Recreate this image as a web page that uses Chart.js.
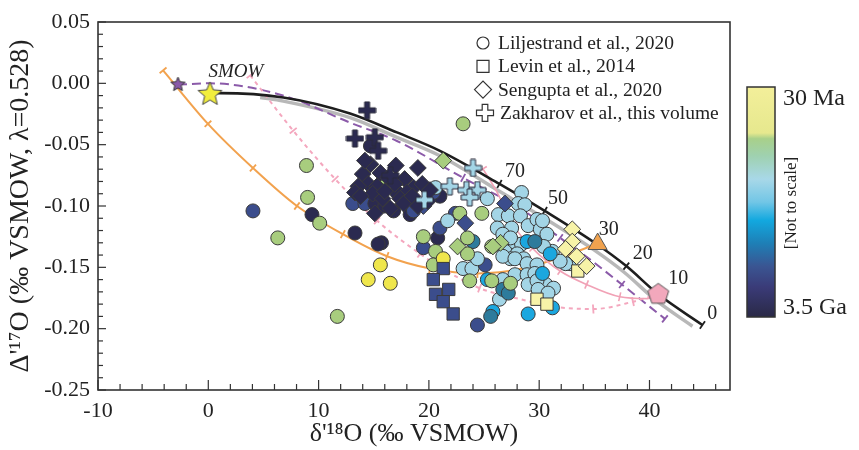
<!DOCTYPE html>
<html>
<head>
<meta charset="utf-8">
<script src="https://cdn.jsdelivr.net/npm/chart.js@4/dist/chart.umd.min.js"></script>
<style>
  html, body { margin: 0; padding: 0; background: #fff; }
</style>
</head>
<body>
<canvas id="chart" width="859" height="450"></canvas>
<script>
const serif = "'Liberation Serif', 'Times New Roman', serif";

// age classes, young (0) to old (7)
const ageColors = ["#f7f3a8", "#efe64c", "#a8cd7e", "#a3d5e6", "#1ba7df", "#2e7b9c", "#3b4d8c", "#2b2a50"];

const xTickLabels = [-10, 0, 10, 20, 30, 40];
const yTickLabels = [0.05, 0, -0.05, -0.10, -0.15, -0.20, -0.25];

// Liljestrand et al., 2020 (circles)
const liljX = [4.05, 8.9, 9.0, 9.4, 10.1, 6.3, 13.3, 15.7, 15.4, 15.6, 14.5, 16.5, 11.7, 23.1, 14.7,
  13.1, 14.2, 15.1, 16.0, 16.8, 17.1, 18.3, 18.6, 21.0, 20.4, 22.4, 20.8, 19.5, 25.1, 24.4, 21.0, 15.8,
  20.6, 21.7, 28.4, 28.1, 28.7, 26.3, 27.2, 28.3, 26.2, 27.5, 29.0, 29.8, 30.1, 26.9, 27.6, 28.4, 26.9, 28.0,
  27.4, 28.6, 31.2, 30.3, 30.7, 30.4, 32.8, 32.4, 31.9, 30.6, 31.3, 26.7, 27.4, 26.7, 27.8, 28.9, 29.8,
  23.1, 23.9, 24.4, 27.8, 28.9, 29.6, 29.0, 29.8, 29.9, 30.8, 26.4, 26.7, 25.3,
  28.9, 31.0, 30.3, 25.3, 29.0, 31.2, 25.8,
  24.0, 29.6, 26.7, 27.2, 25.6,
  22.8, 24.8, 19.5, 20.6, 23.5, 23.5, 20.4, 25.7, 23.7, 25.7, 27.4,
  21.3];
const liljY = [-0.104, -0.067, -0.093, -0.107, -0.114, -0.126, -0.122, -0.130, -0.131, -0.148, -0.160, -0.163, -0.190, -0.033, -0.051,
  -0.098, -0.098, -0.098, -0.100, -0.104, -0.089, -0.107, -0.104, -0.092, -0.089, -0.106, -0.126, -0.134, -0.148, -0.197, -0.118, -0.082,
  -0.085, -0.112, -0.089, -0.098, -0.099, -0.107, -0.108, -0.108, -0.118, -0.118, -0.116, -0.111, -0.119, -0.127, -0.129, -0.131, -0.137, -0.139,
  -0.143, -0.143, -0.137, -0.112, -0.123, -0.133, -0.147, -0.147, -0.145, -0.164, -0.167, -0.123, -0.126, -0.141, -0.143, -0.147, -0.148,
  -0.151, -0.151, -0.143, -0.156, -0.156, -0.155, -0.164, -0.161, -0.168, -0.171, -0.176, -0.160, -0.094,
  -0.129, -0.139, -0.155, -0.160, -0.188, -0.183, -0.186,
  -0.129, -0.129, -0.168, -0.171, -0.190,
  -0.106, -0.106, -0.125, -0.137, -0.126, -0.139, -0.148, -0.133, -0.161, -0.161, -0.163,
  -0.143];
const liljAge = [6, 2, 2, 7, 2, 2, 7, 7, 7, 1, 1, 1, 2, 2, 7,
  6, 6, 7, 7, 7, 7, 7, 6, 7, 6, 6, 7, 6, 6, 6, 6, 2,
  3, 3, 3, 3, 3, 3, 3, 3, 3, 3, 3, 3, 3, 3, 3, 3, 3, 3,
  3, 3, 3, 3, 3, 3, 3, 3, 3, 3, 3, 3, 3, 3, 3, 3, 3,
  3, 3, 3, 3, 3, 3, 3, 3, 3, 3, 3, 3, 3,
  4, 4, 4, 4, 4, 4, 4,
  5, 5, 5, 5, 5,
  2, 2, 2, 2, 2, 2, 2, 2, 2, 2, 2,
  1];

// Levin et al., 2014 (squares)
const levinX = [21.3, 20.4, 21.8, 20.6, 21.3, 22.2, 29.8, 30.7, 33.5];
const levinY = [-0.151, -0.160, -0.168, -0.172, -0.178, -0.188, -0.176, -0.180, -0.153];
const levinAge = [6, 6, 6, 6, 6, 6, 0, 0, 0];

// Sengupta et al., 2020 (diamonds)
const sengX = [33.0, 33.0, 32.4, 33.4, 34.3, 21.3, 22.6, 26.5, 25.8, 26.9, 23.3, 19.5,
  19.0, 14.7, 15.6, 14.0, 16.3, 14.5, 17.8, 13.6, 15.3, 16.9, 18.6, 19.4, 13.3, 14.9,
  18.0, 17.4, 15.8, 17.7, 16.5, 18.5, 19.9, 19.0, 17.0, 16.0, 14.2, 20.1, 15.1, 13.8];
const sengY = [-0.119, -0.129, -0.135, -0.141, -0.149, -0.063, -0.133, -0.130, -0.133, -0.098, -0.114, -0.100,
  -0.069, -0.066, -0.073, -0.074, -0.077, -0.082, -0.078, -0.084, -0.084, -0.082, -0.085, -0.082, -0.089, -0.090,
  -0.089, -0.094, -0.094, -0.098, -0.102, -0.092, -0.096, -0.100, -0.067, -0.088, -0.063, -0.087, -0.106, -0.092];
const sengAge = [0, 0, 0, 0, 0, 2, 2, 2, 2, 6, 6, 6,
  7, 7, 7, 7, 7, 7, 7, 7, 7, 7, 7, 7, 7, 7,
  7, 7, 7, 7, 7, 7, 7, 7, 7, 7, 7, 7, 7, 7];

// Zakharov et al., this volume (crosses)
const zakhX = [14.4, 13.3, 15.1, 15.4, 16.5, 24.0, 21.9, 23.4, 24.4, 23.7, 19.6];
const zakhY = [-0.022, -0.045, -0.044, -0.055, -0.075, -0.069, -0.084, -0.087, -0.087, -0.093, -0.095];
const zakhAge = [7, 7, 7, 7, 7, 3, 3, 3, 3, 3, 3];

// reference compositions
const smowPt = { x: 0.15, y: -0.009 };
const seawaterPt = { x: -2.75, y: -0.001 };
const trianglePt = { x: 35.3, y: -0.131 };
const pentagonPt = { x: 40.8, y: -0.172 };

// model curves
const blackX = [0.15, 1.06, 6.8, 12.85, 17.1, 21.0, 26.4, 30.5, 35.2, 37.9, 40.8, 44.8];
const blackY = [-0.008, -0.008, -0.0115, -0.0246, -0.040, -0.055, -0.082, -0.104, -0.131, -0.149, -0.172, -0.197];
const grayX = [4.7, 6.8, 12.85, 17.1, 21.0, 26.2, 30.3, 35.0, 37.7, 40.6, 43.9];
const grayY = [-0.0115, -0.0145, -0.028, -0.044, -0.059, -0.087, -0.109, -0.136, -0.154, -0.177, -0.198];
const purpleX = [-2.75, 0.15, 6.77, 12.85, 17.1, 23.1, 28.3, 31.9, 34.6, 37.5, 41.4];
const purpleY = [-0.001, 0.0, -0.0099, -0.032, -0.047, -0.077, -0.102, -0.126, -0.1435, -0.164, -0.192];
const orangeX = [-4.1, -0.03, 4.05, 8.04, 12.2, 16.2, 20.1, 24.4, 28.5, 32.2, 35.2];
const orangeY = [0.0106, -0.033, -0.069, -0.100, -0.123, -0.141, -0.151, -0.155, -0.151, -0.141, -0.131];
const pinkDashX = [3.8, 7.7, 11.5, 15.3, 19.2, 21.6, 24.6, 28.3, 31.25, 34.9, 38.5, 40.7];
const pinkDashY = [0.0065, -0.0386, -0.078, -0.112, -0.139, -0.153, -0.167, -0.176, -0.182, -0.184, -0.178, -0.172];
const pinkX = [24.9, 26.2, 27.6, 29.4, 31.9, 34.3, 37.3, 39.8, 40.8];
const pinkY = [-0.0697, -0.089, -0.115, -0.1345, -0.153, -0.164, -0.174, -0.1755, -0.172];

// labels along the black curve
const curveLabels = ["70", "50", "30", "20", "10", "0"];
const curveLabelX = [27.8, 31.7, 36.3, 39.4, 42.6, 45.7];
const curveLabelY = [-0.072, -0.094, -0.119, -0.139, -0.159, -0.188];

const sources = ["Liljestrand et al., 2020", "Levin et al., 2014", "Sengupta et al., 2020", "Zakharov et al., this volume"];

const pts = (xs, ys) => xs.map((v, i) => ({ x: v, y: ys[i] }));
const colorsFor = ages => ages.map(a => ageColors[a]);

function plusIcon(fill, stroke, size, arm) {
  const c = document.createElement("canvas");
  c.width = size + 2; c.height = size + 2;
  const g = c.getContext("2d");
  const m = c.width / 2, h = arm / 2, e = size / 2;
  g.beginPath();
  g.moveTo(m - h, m - e); g.lineTo(m + h, m - e); g.lineTo(m + h, m - h); g.lineTo(m + e, m - h);
  g.lineTo(m + e, m + h); g.lineTo(m + h, m + h); g.lineTo(m + h, m + e); g.lineTo(m - h, m + e);
  g.lineTo(m - h, m + h); g.lineTo(m - e, m + h); g.lineTo(m - e, m - h); g.lineTo(m - h, m - h);
  g.closePath();
  g.fillStyle = fill; g.fill();
  g.strokeStyle = stroke; g.lineWidth = 1; g.stroke();
  return c;
}

function polyIcon(fill, stroke, r, n, inner) {
  const s = Math.ceil(r * 2 + 4);
  const c = document.createElement("canvas");
  c.width = s; c.height = s;
  const g = c.getContext("2d");
  const k = inner ? n * 2 : n;
  g.beginPath();
  for (let i = 0; i < k; i++) {
    const rr = inner && i % 2 ? r * inner : r;
    const a = -Math.PI / 2 + i * 2 * Math.PI / k;
    g.lineTo(s / 2 + rr * Math.cos(a), s / 2 + rr * Math.sin(a));
  }
  g.closePath();
  g.fillStyle = fill; g.fill();
  g.strokeStyle = stroke; g.lineWidth = 1; g.stroke();
  return c;
}

const plusIcons = {};
[3, 7].forEach(a => { plusIcons[a] = plusIcon(ageColors[a], "#2a2a3a", 17, 5); });

function curve(label, xs, ys, color, width, dash, ticks, order) {
  return {
    type: "line", label: label, data: pts(xs, ys), showLine: true,
    borderColor: color, borderWidth: width, borderDash: dash, pointRadius: 0,
    cubicInterpolationMode: "monotone", fill: false, order: order,
    tickAt: ticks
  };
}

// short perpendicular marks along the model curves
const curveTicks = {
  id: "curveTicks",
  afterDatasetDraw(chart, args) {
    const ds = chart.data.datasets[args.index];
    if (!ds.tickAt) return;
    const { ctx, scales: { x, y } } = chart;
    const p = ds.data.map(d => [x.getPixelForValue(d.x), y.getPixelForValue(d.y)]);
    ctx.save();
    ctx.strokeStyle = ds.borderColor;
    ctx.lineWidth = Math.min(ds.borderWidth, 1.8);
    ctx.setLineDash([]);
    ds.tickAt.forEach(i => {
      const a = p[Math.max(i - 1, 0)], b = p[Math.min(i + 1, p.length - 1)];
      const ang = Math.atan2(b[1] - a[1], b[0] - a[0]) + Math.PI / 2;
      const dx = Math.cos(ang) * 4.5, dy = Math.sin(ang) * 4.5;
      ctx.beginPath();
      ctx.moveTo(p[i][0] - dx, p[i][1] - dy);
      ctx.lineTo(p[i][0] + dx, p[i][1] + dy);
      ctx.stroke();
    });
    ctx.restore();
  }
};

// frame, inward axis ticks, curve labels, legend and age colour bar
const decorations = {
  id: "decorations",
  beforeDraw(chart) {
    const ctx = chart.ctx;
    ctx.save();
    ctx.fillStyle = "#fff";
    ctx.fillRect(0, 0, chart.width, chart.height);
    ctx.restore();
  },
  afterDraw(chart) {
    const { ctx, chartArea: ca, scales: { x, y } } = chart;
    ctx.save();
    ctx.strokeStyle = "#333";
    ctx.lineWidth = 1.6;
    ctx.strokeRect(ca.left, ca.top, ca.right - ca.left, ca.bottom - ca.top);

    ctx.lineWidth = 1.2;
    for (let v = -10; v <= 46; v += 2) {
      const px = x.getPixelForValue(v);
      const len = v % 10 === 0 ? 10 : 6;
      ctx.beginPath(); ctx.moveTo(px, ca.bottom); ctx.lineTo(px, ca.bottom - len); ctx.stroke();
    }
    for (let k = -25; k <= 5; k++) {
      const py = y.getPixelForValue(k / 100);
      const len = k % 5 === 0 ? 8 : 5;
      ctx.beginPath(); ctx.moveTo(ca.left, py); ctx.lineTo(ca.left + len, py); ctx.stroke();
    }

    ctx.fillStyle = "#222";
    ctx.textAlign = "center";
    ctx.textBaseline = "middle";
    ctx.font = `20px ${serif}`;
    curveLabels.forEach((t, i) => {
      ctx.fillText(t, x.getPixelForValue(curveLabelX[i]), y.getPixelForValue(curveLabelY[i]));
    });
    ctx.font = `italic 19px ${serif}`;
    ctx.fillText("SMOW", x.getPixelForValue(2.5), y.getPixelForValue(0.009));

    // legend
    ctx.font = `19.5px ${serif}`;
    ctx.textAlign = "left";
    ctx.strokeStyle = "#333";
    ctx.lineWidth = 1.2;
    const lx = 483;
    sources.forEach((name, i) => {
      const cy = 43 + i * 23.3;
      ctx.beginPath();
      if (i === 0) ctx.arc(lx, cy, 6, 0, Math.PI * 2);
      if (i === 1) ctx.rect(lx - 6, cy - 6, 12, 12);
      if (i === 2) { ctx.moveTo(lx - 8.5, cy); ctx.lineTo(lx, cy - 8.5); ctx.lineTo(lx + 8.5, cy); ctx.lineTo(lx, cy + 8.5); ctx.closePath(); }
      if (i === 3) {
        const h = 2.8, e = 8.5, m = lx + 2;
        ctx.moveTo(m - h, cy - e); ctx.lineTo(m + h, cy - e); ctx.lineTo(m + h, cy - h); ctx.lineTo(m + e, cy - h);
        ctx.lineTo(m + e, cy + h); ctx.lineTo(m + h, cy + h); ctx.lineTo(m + h, cy + e); ctx.lineTo(m - h, cy + e);
        ctx.lineTo(m - h, cy + h); ctx.lineTo(m - e, cy + h); ctx.lineTo(m - e, cy - h); ctx.lineTo(m - h, cy - h);
        ctx.closePath();
      }
      ctx.stroke();
      ctx.fillText(name, i === 3 ? 500 : 498, cy + 1);
    });

    // age colour bar
    const bx = 747, by = 87, bw = 28, bh = 230;
    const grad = ctx.createLinearGradient(0, by, 0, by + bh);
    grad.addColorStop(0, "#f3ef9a");
    grad.addColorStop(0.2, "#e6e88e");
    grad.addColorStop(0.225, "#a8d08a");
    grad.addColorStop(0.3, "#9fd1b0");
    grad.addColorStop(0.4, "#a8d8e8");
    grad.addColorStop(0.5, "#72c6e6");
    grad.addColorStop(0.58, "#12a8df");
    grad.addColorStop(0.68, "#1e7fb6");
    grad.addColorStop(0.78, "#3a5592");
    grad.addColorStop(0.87, "#3a3b78");
    grad.addColorStop(1, "#2a2946");
    ctx.fillStyle = grad;
    ctx.fillRect(bx, by, bw, bh);
    ctx.strokeStyle = "#333";
    ctx.lineWidth = 1.5;
    ctx.strokeRect(bx, by, bw, bh);

    ctx.fillStyle = "#222";
    ctx.textAlign = "left";
    ctx.font = `24px ${serif}`;
    ctx.fillText("30 Ma", 783, 99);
    ctx.fillText("3.5 Ga", 783, 308);
    ctx.save();
    ctx.translate(792, 203);
    ctx.rotate(-Math.PI / 2);
    ctx.textAlign = "center";
    ctx.font = `17px ${serif}`;
    ctx.fillText("[Not to scale]", 0, 0);
    ctx.restore();
    ctx.restore();
  }
};

const datasets = [
  { label: "SMOW", data: [smowPt], pointStyle: polyIcon("#f2ee3c", "#444", 12.5, 5, 0.45), order: 0 },
  { label: "seawater", data: [seawaterPt], pointStyle: polyIcon("#8a5aa8", "#333", 7.5, 5, 0.45), order: 0 },
  { label: "triangle", data: [trianglePt], pointStyle: "triangle", pointRadius: 11, backgroundColor: "#f0a24e", borderColor: "#555", borderWidth: 1, order: 0 },
  { label: "pentagon", data: [pentagonPt], pointStyle: polyIcon("#f2a8bc", "#555", 11, 5, 0), order: 0 },
  { label: sources[3], data: pts(zakhX, zakhY), pointStyle: ctx => plusIcons[zakhAge[ctx.dataIndex]], order: 1 },
  { label: sources[2], data: pts(sengX, sengY), pointStyle: "rectRot", pointRadius: 8.4,
    backgroundColor: colorsFor(sengAge), borderColor: "#3a3a3a", borderWidth: 1, order: 2 },
  { label: sources[1], data: pts(levinX, levinY), pointStyle: "rect", pointRadius: 8.7,
    backgroundColor: colorsFor(levinAge), borderColor: "#3a3a3a", borderWidth: 1, order: 3 },
  { label: sources[0], data: pts(liljX, liljY), pointStyle: "circle", pointRadius: 7,
    backgroundColor: colorsFor(liljAge), borderColor: "#3a3a3a", borderWidth: 1, order: 4 },
  curve("black", blackX, blackY, "#1e1e1e", 2.6, [], [6, 7, 9, 11], 5),
  curve("pink", pinkX, pinkY, "#f1a2b6", 1.6, [], [0, 2, 3, 4, 5, 6], 6),
  curve("pinkDash", pinkDashX, pinkDashY, "#f4a7be", 2, [4, 4], [0, 1, 2, 3, 4, 6, 8, 9, 10], 7),
  curve("orange", orangeX, orangeY, "#f2a24e", 2, [], [0, 1, 2, 3, 4, 5, 6, 7, 8], 8),
  curve("purple", purpleX, purpleY, "#8b5aa9", 2, [9, 5], [5, 6, 7, 9, 10], 9),
  curve("gray", grayX, grayY, "#b8b8b8", 3.5, [], null, 10)
];

new Chart(document.getElementById("chart"), {
  type: "scatter",
  data: { datasets: datasets },
  options: {
    responsive: false,
    animation: false,
    layout: { padding: { left: 0, right: 129, top: 22, bottom: 0 } },
    plugins: { legend: { display: false }, tooltip: { enabled: false } },
    scales: {
      x: {
        type: "linear", min: -10, max: 47.3,
        afterBuildTicks: s => { s.ticks = xTickLabels.map(v => ({ value: v })); },
        afterFit: s => { s.height = 60; },
        grid: { display: false, drawTicks: false },
        border: { display: false },
        ticks: { color: "#222", font: { family: serif, size: 22 }, padding: 8, maxRotation: 0, callback: v => String(v) },
        title: { display: true, text: "δ'¹⁸O (‰ VSMOW)", color: "#222", font: { family: serif, size: 26 }, padding: { top: 0, bottom: 0 } }
      },
      y: {
        type: "linear", min: -0.25, max: 0.05,
        afterBuildTicks: s => { s.ticks = yTickLabels.map(v => ({ value: v })); },
        afterFit: s => { s.width = 98; },
        grid: { display: false, drawTicks: false },
        border: { display: false },
        ticks: { color: "#222", font: { family: serif, size: 22 }, padding: 8, callback: v => v.toFixed(2) },
        title: { display: true, text: "Δ'¹⁷O (‰ VSMOW, λ=0.528)", color: "#222", font: { family: serif, size: 28 }, padding: { top: 4, bottom: 0 } }
      }
    }
  },
  plugins: [curveTicks, decorations]
});
</script>
</body>
</html>
